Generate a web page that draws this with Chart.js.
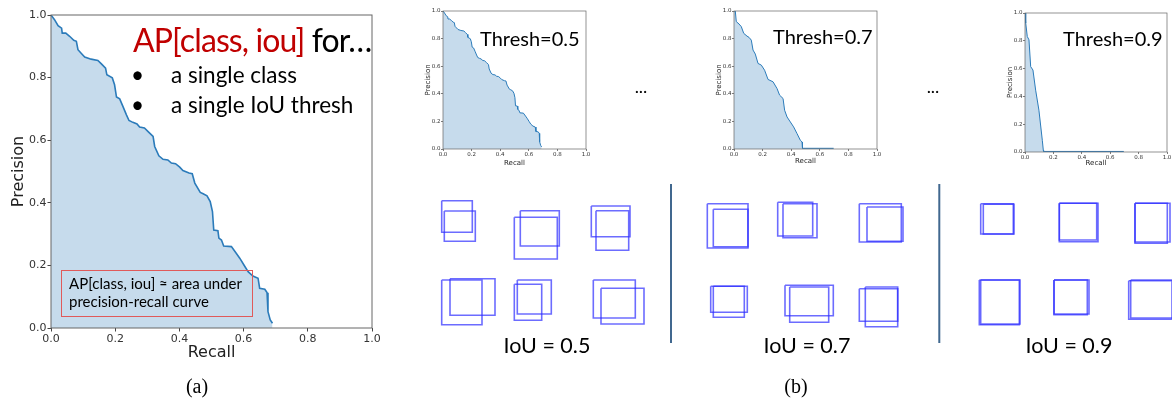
<!DOCTYPE html>
<html>
<head>
<meta charset="utf-8">
<script src="https://cdn.jsdelivr.net/npm/chart.js@4.4.1/dist/chart.umd.min.js"></script>
<style>
  body { margin: 0; background: #fff; }
  #page { position: relative; width: 1172px; height: 406px; overflow: hidden; }
  .cv { position: absolute; }
  .txt { position: absolute; white-space: nowrap; line-height: 1; font-family: Lato, "Open Sans", sans-serif; color: #000; }
</style>
</head>
<body>
<div id="page">
  <canvas id="main" class="cv" style="left:0;top:0;width:390px;height:370px" width="390" height="370"></canvas>
  <canvas id="pr50" class="cv" style="left:410px;top:0;width:190px;height:175px" width="190" height="175"></canvas>
  <canvas id="pr70" class="cv" style="left:700px;top:0;width:190px;height:175px" width="190" height="175"></canvas>
  <canvas id="pr90" class="cv" style="left:990px;top:0;width:182px;height:175px" width="182" height="175"></canvas>
  <canvas id="boxes" class="cv" style="left:0;top:0;width:1172px;height:406px" width="1172" height="406"></canvas>

  <div class="txt" style="left:133px;top:24px;font-size:32px;letter-spacing:-0.9px"><span style="color:#c00000">AP[class, iou]</span> for…</div>
  <div class="txt" style="left:131px;top:64px;font-size:22.5px">•</div>
  <div class="txt" style="left:171px;top:64px;font-size:22.5px">a single class</div>
  <div class="txt" style="left:131px;top:94px;font-size:22.5px">•</div>
  <div class="txt" style="left:171px;top:94px;font-size:22.5px">a single IoU thresh</div>
  <div style="position:absolute;left:61px;top:270px;width:190px;height:45px;border:1px solid #e05a5a"></div>
  <div class="txt" style="left:69px;top:276px;font-size:15px">AP[class, iou] ≈ area under</div>
  <div class="txt" style="left:69px;top:294px;font-size:15px">precision-recall curve</div>

  <div class="txt" style="left:480px;top:28px;font-size:20px">Thresh=0.5</div>
  <div class="txt" style="left:773px;top:26px;font-size:20px">Thresh=0.7</div>
  <div class="txt" style="left:1063px;top:28px;font-size:20px">Thresh=0.9</div>
  <div class="txt" style="left:641px;top:77px;font-size:18px;transform:translateX(-50%)">...</div>
  <div class="txt" style="left:933px;top:77px;font-size:18px;transform:translateX(-50%)">...</div>

  <div class="txt" style="left:547px;top:335px;font-size:21.5px;transform:translateX(-50%)">IoU = 0.5</div>
  <div class="txt" style="left:807px;top:335px;font-size:21.5px;transform:translateX(-50%)">IoU = 0.7</div>
  <div class="txt" style="left:1069px;top:335px;font-size:21.5px;transform:translateX(-50%)">IoU = 0.9</div>

  <div class="txt" style="left:197px;top:376px;font-size:20px;font-family:'Liberation Serif',serif;transform:translateX(-50%)">(a)</div>
  <div class="txt" style="left:796px;top:376px;font-size:20px;font-family:'Liberation Serif',serif;transform:translateX(-50%)">(b)</div>
</div>

<script>
// precision-recall curves
var recall50 = [0, 0.011, 0.022, 0.033, 0.035, 0.046, 0.058, 0.071, 0.079, 0.084, 0.094, 0.105, 0.125, 0.146, 0.157, 0.170, 0.174, 0.191, 0.198, 0.204, 0.214, 0.224, 0.235, 0.243, 0.255, 0.268, 0.276, 0.291, 0.305, 0.318, 0.323, 0.336, 0.349, 0.364, 0.375, 0.388, 0.401, 0.411, 0.430, 0.440, 0.448, 0.465, 0.474, 0.486, 0.496, 0.503, 0.507, 0.520, 0.523, 0.531, 0.538, 0.562, 0.577, 0.588, 0.603, 0.614, 0.629, 0.645, 0.650, 0.666, 0.673, 0.676, 0.683, 0.690];
var precision50 = [1.0, 0.985, 0.966, 0.958, 0.942, 0.942, 0.932, 0.919, 0.916, 0.889, 0.878, 0.866, 0.859, 0.855, 0.844, 0.830, 0.809, 0.799, 0.777, 0.738, 0.732, 0.708, 0.681, 0.663, 0.657, 0.652, 0.642, 0.639, 0.625, 0.612, 0.580, 0.550, 0.539, 0.537, 0.527, 0.525, 0.514, 0.503, 0.495, 0.493, 0.463, 0.433, 0.429, 0.422, 0.404, 0.372, 0.313, 0.311, 0.287, 0.281, 0.262, 0.260, 0.239, 0.223, 0.198, 0.180, 0.166, 0.159, 0.127, 0.124, 0.113, 0.052, 0.026, 0.015];

var recall70 = [0, 0.009, 0.016, 0.035, 0.051, 0.068, 0.091, 0.105, 0.121, 0.133, 0.149, 0.168, 0.191, 0.214, 0.238, 0.273, 0.301, 0.319, 0.343, 0.354, 0.371, 0.394, 0.417, 0.441, 0.464, 0.476, 0.478, 0.480, 0.697];
var precision70 = [1.0, 1.0, 0.923, 0.906, 0.887, 0.838, 0.818, 0.809, 0.789, 0.717, 0.688, 0.620, 0.608, 0.571, 0.504, 0.487, 0.438, 0.390, 0.366, 0.281, 0.232, 0.196, 0.160, 0.111, 0.063, 0.051, 0.005, 0.005, 0.005];

var recall90 = [0, 0.005, 0.005, 0.016, 0.028, 0.040, 0.056, 0.075, 0.098, 0.122, 0.129, 0.131, 0.696];
var precision90 = [1.0, 1.0, 0.928, 0.831, 0.807, 0.614, 0.590, 0.445, 0.301, 0.084, 0.012, 0.004, 0.004];

var axisTicks = [0, 0.2, 0.4, 0.6, 0.8, 1.0];
var tickLabels = ['0.0', '0.2', '0.4', '0.6', '0.8', '1.0'];

// matched box pairs in picture units (x1, y1, x2, y2)
var boxesIou50 = [
  [441.7, 200.7, 472.3, 232.3], [444.3, 211, 475.3, 241.3],
  [520.3, 210.7, 559.3, 246], [514.3, 217.3, 557.3, 259],
  [591.3, 206, 630, 236.7], [596, 210.7, 628.7, 250.3],
  [441.7, 280, 482, 324.7], [450, 278.7, 495, 315.3],
  [517.3, 280, 551.3, 314], [514.3, 284.3, 541.7, 320.3],
  [593.3, 280, 635.3, 318], [601, 288.3, 644, 324]
];
var boxesIou70 = [
  [707.3, 203.7, 748, 248], [713.3, 209.3, 748, 246.7],
  [777.7, 202.3, 812.7, 236], [783, 203.7, 817, 237.7],
  [859.3, 203.7, 901.3, 242], [867, 207, 903, 241.3],
  [710.7, 286.3, 747.3, 312.3], [713.3, 286.3, 744.3, 317.3],
  [785, 285.3, 833.3, 315.7], [789.7, 287, 828.7, 322.3],
  [859.3, 288.7, 897.7, 321.3], [865.3, 287, 897.7, 326.7]
];
var boxesIou90 = [
  [980.7, 203.7, 1013.3, 234], [983.3, 204.3, 1014, 234],
  [1059.3, 203.3, 1096.7, 240], [1059.3, 203.3, 1098, 241.7],
  [1135, 203.3, 1167.3, 243.3], [1135, 203.3, 1170, 242],
  [979.3, 280, 1019.3, 324.7], [980.7, 280, 1020, 324],
  [1054, 280, 1087.3, 314.7], [1054, 280, 1089, 314],
  [1128.7, 280.7, 1172, 319.3], [1130.7, 280, 1173, 318]
];
var dividerX = [671, 939.3];
var dividerY = [184, 343];

var frame = {
  id: 'frame',
  afterDraw: function(chart, args, opts) {
    var a = chart.chartArea, ctx = chart.ctx;
    ctx.save();
    ctx.strokeStyle = opts.color;
    ctx.lineWidth = opts.width;
    ctx.strokeRect(a.left, a.top, a.right - a.left, a.bottom - a.top);
    ctx.restore();
  }
};

function points(xs, ys) {
  var out = [];
  for (var i = 0; i < xs.length; i++) out.push({ x: xs[i], y: ys[i] });
  return out;
}

function prChart(id, xs, ys, s) {
  var tickCb = function(v) {
    var i = axisTicks.indexOf(Math.round(v * 10) / 10);
    return i >= 0 ? tickLabels[i] : '';
  };
  var tickStyle = { color: '#333', font: { family: 'DejaVu Sans', size: s.tick }, padding: s.tickPad, stepSize: 0.2, callback: tickCb };
  var gridStyle = { display: true, drawOnChartArea: false, drawTicks: true, tickLength: s.tickLen, color: '#444', lineWidth: s.frame };
  return new Chart(document.getElementById(id), {
    type: 'line',
    data: {
      datasets: [{
        data: points(xs, ys),
        borderColor: '#2b7bba',
        borderWidth: s.line,
        backgroundColor: '#c6dbec',
        fill: 'origin',
        pointRadius: 0,
        tension: 0
      }]
    },
    options: {
      responsive: false,
      animation: false,
      layout: { padding: { top: s.top, right: s.right, left: 0, bottom: 0 } },
      plugins: { legend: { display: false }, tooltip: { enabled: false }, frame: { color: '#666', width: s.frame } },
      scales: {
        x: {
          type: 'linear', min: 0, max: 1,
          ticks: tickStyle, grid: gridStyle, border: { display: false },
          title: { display: true, text: 'Recall', color: '#222', font: { family: 'DejaVu Sans', size: s.title }, padding: { top: 0, bottom: s.xTitlePad } },
          afterFit: function(sc) { sc.height = s.xH; }
        },
        y: {
          type: 'linear', min: 0, max: 1,
          ticks: tickStyle, grid: gridStyle, border: { display: false },
          title: { display: true, text: 'Precision', color: '#222', font: { family: 'DejaVu Sans', size: s.title }, padding: { top: s.yTitlePad, bottom: 0 } },
          afterFit: function(sc) { sc.width = s.yW; }
        }
      }
    },
    plugins: [frame]
  });
}

prChart('main', recall50, precision50, { tick: 11, tickPad: 1, tickLen: 3.5, title: 16, line: 1.6, frame: 1, top: 15, right: 18, xH: 42, yW: 51, xTitlePad: 8, yTitlePad: 9 });
prChart('pr50', recall50, precision50, { tick: 5.5, tickPad: 0.5, tickLen: 2, title: 7, line: 1, frame: 0.7, top: 11, right: 14, xH: 26, yW: 33, xTitlePad: 8, yTitlePad: 14 });
prChart('pr70', recall70, precision70, { tick: 5.5, tickPad: 0.5, tickLen: 2, title: 7, line: 1, frame: 0.7, top: 11, right: 13, xH: 26, yW: 34, xTitlePad: 9.5, yTitlePad: 15 });
prChart('pr90', recall90, precision90, { tick: 5.5, tickPad: 0.5, tickLen: 2, title: 7, line: 1, frame: 0.7, top: 13, right: 5, xH: 23, yW: 35, xTitlePad: 7.5, yTitlePad: 15.5 });

// boxes and dividers on one hidden-axis overlay
var boxSets = [];
[boxesIou50, boxesIou70, boxesIou90].forEach(function(group) {
  group.forEach(function(b) {
    boxSets.push({
      data: [{ x: b[0], y: b[1] }, { x: b[2], y: b[1] }, { x: b[2], y: b[3] }, { x: b[0], y: b[3] }, { x: b[0], y: b[1] }],
      borderColor: 'rgba(45, 45, 255, 0.7)',
      borderWidth: 1.6,
      pointRadius: 0,
      fill: false,
      tension: 0
    });
  });
});
dividerX.forEach(function(x) {
  boxSets.push({
    data: [{ x: x, y: dividerY[0] }, { x: x, y: dividerY[1] }],
    borderColor: '#41688f',
    borderWidth: 2,
    pointRadius: 0,
    fill: false
  });
});

new Chart(document.getElementById('boxes'), {
  type: 'line',
  data: { datasets: boxSets },
  options: {
    responsive: false,
    animation: false,
    layout: { padding: 0 },
    plugins: { legend: { display: false }, tooltip: { enabled: false } },
    scales: {
      x: { type: 'linear', min: 0, max: 1172, display: false },
      y: { type: 'linear', min: 0, max: 406, reverse: true, display: false }
    }
  }
});
</script>
</body>
</html>
